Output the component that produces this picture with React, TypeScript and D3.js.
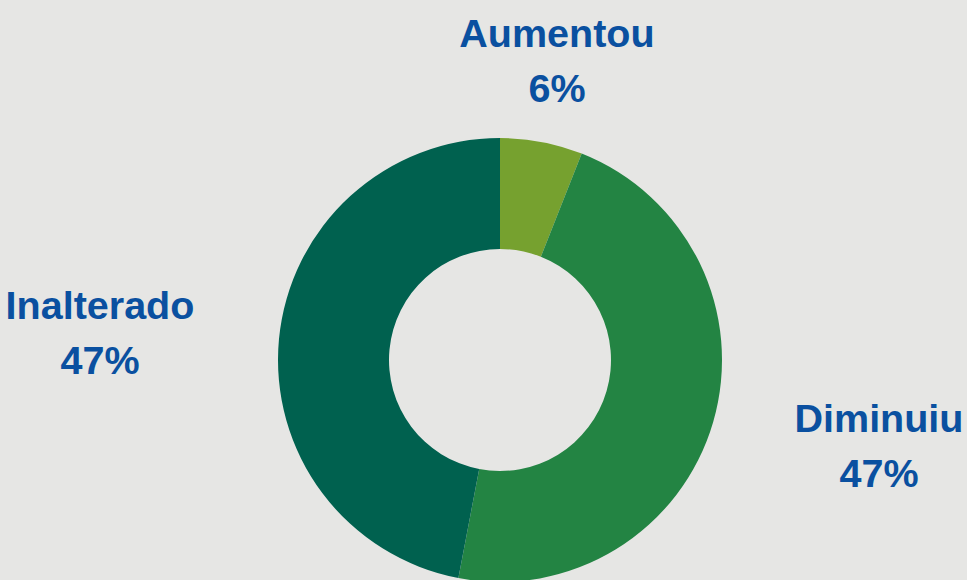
import React from "react";
import * as d3 from "d3";

const categories = ["Aumentou", "Diminuiu", "Inalterado"];
const values = [6, 47, 47];
const labels = ["6%", "47%", "47%"];
const colors = ["#76a12f", "#238443", "#00614f"];
const labelPos = [
  [557, 47],
  [879, 432],
  [100, 319],
];

export default function App() {
  const W = 967, H = 580;
  const cx = 500, cy = 360, rOuter = 222, rInner = 111;
  const pie = d3.pie<number>().sort(null).value((d) => d);
  const arcs = pie(values);
  const arc = d3.arc<d3.PieArcDatum<number>>().innerRadius(rInner).outerRadius(rOuter);
  return (
    <svg width={W} height={H} style={{ position: "absolute", left: 0, top: 0, background: "#e6e6e4" }}>
      <rect width={W} height={H} fill="#e6e6e4" />
      <g transform={`translate(${cx},${cy})`}>
        {arcs.map((a, i) => (
          <path key={i} d={arc(a) || ""} fill={colors[i]} />
        ))}
      </g>
      {categories.map((c, i) => (
        <text
          key={c}
          x={labelPos[i][0]}
          y={labelPos[i][1]}
          textAnchor="middle"
          fontFamily="'Liberation Sans', Arial, sans-serif"
          fontWeight="bold"
          fontSize={39.5}
          fill="#0a50a0"
        >
          <tspan x={labelPos[i][0]}>{c}</tspan>
          <tspan x={labelPos[i][0]} dy={54.5}>{labels[i]}</tspan>
        </text>
      ))}
    </svg>
  );
}
